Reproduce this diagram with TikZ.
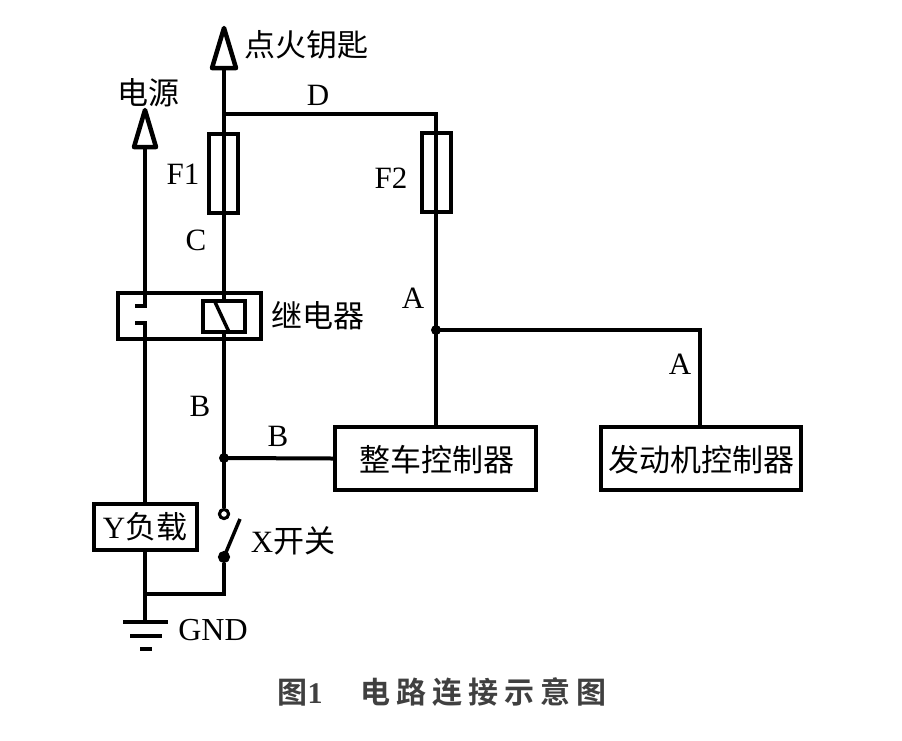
\documentclass[tikz,border=0pt]{standalone}
\usepackage{fontspec}
\setmainfont{Liberation Serif}
\newfontfamily\cjk{Noto Sans CJK SC}
\newfontfamily\cjkb{Noto Sans CJK SC Bold}
\begin{document}
\begin{tikzpicture}[x=1pt,y=-1pt,
  wire/.style={line width=4pt},
  boxnode/.style={draw,line width=4pt,rectangle,inner sep=0pt},
  lbl/.style={font=\fontsize{31}{31}\selectfont,inner sep=0pt},
  cn/.style={font=\cjk\fontsize{31}{31}\selectfont,inner sep=0pt},
  dotnode/.style={circle,fill,inner sep=0pt,minimum size=10pt},
  contact/.style={circle,draw,fill=white,line width=3pt,inner sep=0pt,minimum size=9pt}]
\fill[white] (0,0) rectangle (902,740);
\useasboundingbox (0,0) rectangle (902,740);
% coordinates
\coordinate (keytip) at (224,28);
\coordinate (keybase) at (224,68);
\coordinate (pwrtip) at (145,110);
\coordinate (pwrbase) at (145,147);
\coordinate (Dl) at (224,114);
\coordinate (Dr) at (436,114);
\coordinate (Aj) at (436,330);
\coordinate (Ar) at (700,330);
\coordinate (Bj) at (224,458);
\coordinate (coiltop) at (224,301);
\coordinate (coilbot) at (224,332);
\coordinate (ctA) at (145,306);
\coordinate (ctA2) at (135,306);
\coordinate (ctB) at (145,323);
\coordinate (ctB2) at (135,323);
\coordinate (gndj) at (145,594);
\coordinate (swc) at (224,594);
\coordinate (gnd) at (145,622);
% boxes
\node[boxnode,minimum width=201pt,minimum height=63pt] (vcu) at (435.5,458.5) {};
\node[boxnode,minimum width=200pt,minimum height=63pt] (ecu) at (701,458.5) {};
\node[boxnode,minimum width=103pt,minimum height=46pt] (load) at (145.5,527) {};
\node[contact] (sw1) at (224,514) {};
\node[contact] (sw2) at (224,557) {};
% wires
\draw[wire] (keybase) -- (coiltop);
\draw[wire] (coilbot) -- (sw1);
\draw[wire] (Dl) -- (Dr) -- (Dr |- vcu.north);
\draw[wire] (Aj) -- (Ar) -- (ecu.north -| Ar);
\draw[wire] (Bj) -- (vcu.west);
\draw[wire] (pwrbase) -- (ctA) -- (ctA2);
\draw[wire] (ctB2) -- (ctB) -- (load.north -| ctB);
\draw[wire] (load.south -| gnd) -- (gnd);
\draw[wire] (sw2) -- (swc) -- (gndj);
\draw[line width=3.5pt] (sw2.center) -- (240,519);
\node[contact] at (sw1) {};
\fill (sw2.center) circle (4pt);
% fuses
\node[boxnode,minimum width=29pt,minimum height=79pt] (F1) at (223.5,173.5) {};
\node[boxnode,minimum width=29pt,minimum height=79pt] (F2) at (436.5,172.5) {};
\draw[wire] (F1.north -| Dl) -- (F1.south -| Dl);
\draw[wire] (F2.north -| Dr) -- (F2.south -| Dr);
% relay
\draw[wire] (118,293) rectangle (261,339);
\draw[wire,fill=white] (203,301) rectangle (245,332);
\draw[line width=3.5pt] (215,302) -- (229,332);
% arrows
\draw[line width=4.5pt,fill=white,line join=round] (keytip) -- (212,68) -- (236,68) -- cycle;
\draw[line width=4.5pt,fill=white,line join=round] (pwrtip) -- (134,147) -- (156,147) -- cycle;
% ground
\draw[wire] (123,622) -- (168,622);
\draw[wire] (130,636) -- (162,636);
\draw[wire] (140,649) -- (152,649);
% dots
\node[dotnode] (dA) at (Aj) {};
\node[dotnode] (dB) at (Bj) {};
% labels
\node[cn,anchor=west] (lkey) at (244,45) {点火钥匙};
\node[cn] (lpwr) at (148,93) {电源};
\node[lbl] (lD) at (318,95) {D};
\node[lbl] (lF1) at (183,174) {F1};
\node[lbl] (lF2) at (391,178) {F2};
\node[lbl] (lC) at (196,240) {C};
\node[cn] (lrelay) at (318,316) {继电器};
\node[lbl] (lA1) at (413,298) {A};
\node[lbl] (lA2) at (680,364) {A};
\node[lbl] (lB1) at (200,406) {B};
\node[lbl] (lB2) at (278,436) {B};
\node[cn] (tvcu) at (437,460) {整车控制器};
\node[cn] (tecu) at (701,460) {发动机控制器};
\node[lbl] (tload) at (145,527) {Y{\cjk 负载}};
\node[lbl] (lsw) at (293,541) {X{\cjk 开关}};
\node[lbl,font=\fontsize{32}{32}\selectfont] (lgnd) at (213,630) {GND};
\node[inner sep=0pt,text=black!75,font=\fontsize{30}{30}\selectfont] (cap) at (442,692)
  {{\cjkb 图}\textbf{1}\hspace{38pt}{\cjkb 电\hspace{6pt}路\hspace{6pt}连\hspace{6pt}接\hspace{6pt}示\hspace{6pt}意\hspace{6pt}图}};
\end{tikzpicture}
\end{document}
